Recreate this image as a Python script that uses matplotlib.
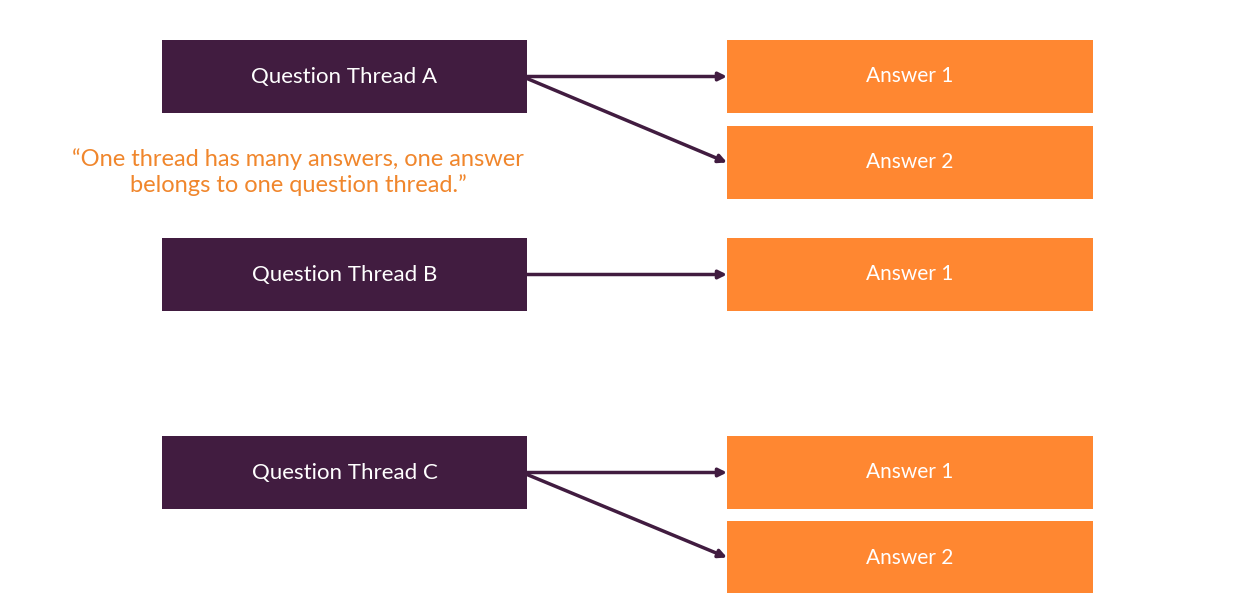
import matplotlib
matplotlib.use("Agg")
import matplotlib.pyplot as plt
from matplotlib.patches import Rectangle

PURPLE = "#411C40"
ORANGE = "#FF8731"
QUOTE = "#F0862C"

threads = ["Question Thread A", "Question Thread B", "Question Thread C"]
thread_top = [40, 238, 436]
answers = [["Answer 1", "Answer 2"], ["Answer 1"], ["Answer 1", "Answer 2"]]
answer_top = [[40, 126], [238], [436, 521]]
quote = "\u201cOne thread has many answers, one answer\nbelongs to one question thread.\u201d"

W, H = 1245, 593
BOX_H = 73
QX0, QX1 = 162, 527
AX0, AX1 = 727, 1093

fig = plt.figure(figsize=(W / 100, H / 100), dpi=100)
ax = fig.add_axes([0, 0, 1, 1])
ax.set_xlim(0, W)
ax.set_ylim(H, 0)
ax.axis("off")

for name, top, ans, atops in zip(threads, thread_top, answers, answer_top):
    ax.add_patch(Rectangle((QX0, top), QX1 - QX0, BOX_H, facecolor=PURPLE, edgecolor="none"))
    ax.text((QX0 + QX1) / 2, top + BOX_H / 2, name, ha="center", va="center",
            fontsize=16, color="white", family=["Lato", "DejaVu Sans"])
    for i, (a, at) in enumerate(zip(ans, atops)):
        ax.add_patch(Rectangle((AX0, at), AX1 - AX0, BOX_H, facecolor=ORANGE, edgecolor="none"))
        ax.text((AX0 + AX1) / 2, at + BOX_H / 2, a, ha="center", va="center",
                fontsize=15, color="white", family=["Lato", "DejaVu Sans"])
        y0 = top + BOX_H / 2 + (2 if i else 0)
        ax.annotate("", xy=(AX0, at + BOX_H / 2), xytext=(QX1, y0),
                    arrowprops=dict(arrowstyle="-|>", color=PURPLE, lw=2.5,
                                    mutation_scale=12, shrinkA=0, shrinkB=0))

ax.text(298, 172, quote, ha="center", va="center", fontsize=17, color=QUOTE,
        family=["Lato", "DejaVu Sans"], linespacing=1.25)

fig.savefig("out.png", dpi=100, facecolor="white")
